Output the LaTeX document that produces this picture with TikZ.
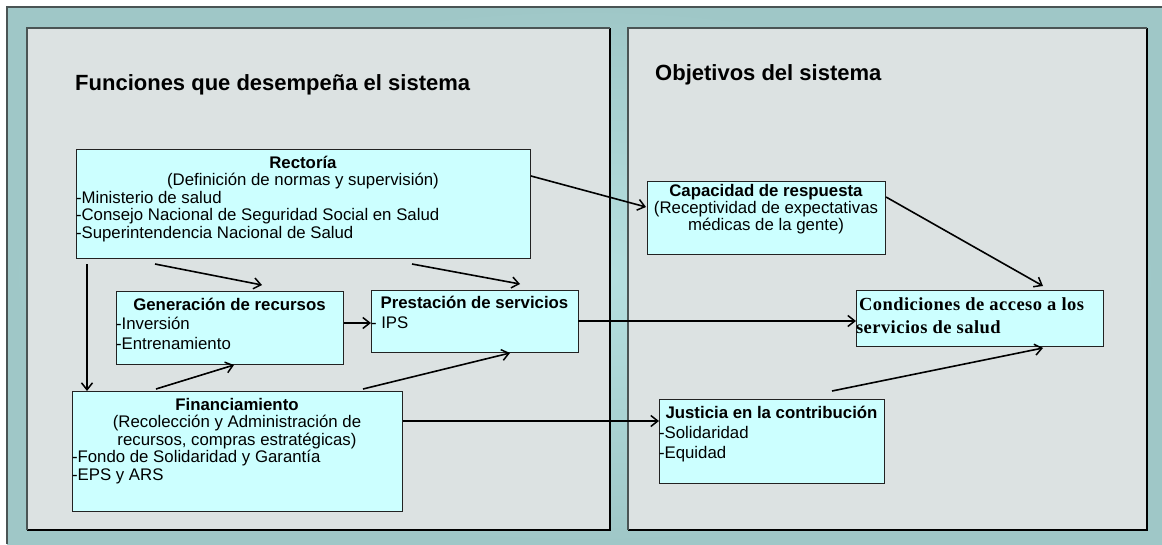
\documentclass[tikz,border=0pt]{standalone}
\usepackage{fontspec}
\setmainfont{Liberation Sans}
\newfontfamily\condfont{Liberation Serif}[LetterSpace=2.5]
\usetikzlibrary{arrows.meta,calc}
\definecolor{teal1}{HTML}{9FC7C7}
\definecolor{teal2}{HTML}{B6E0E0}
\definecolor{panelfill}{HTML}{DCE2E2}
\definecolor{boxfill}{HTML}{CCFFFF}
\definecolor{boxline}{HTML}{222222}
\definecolor{panelline}{HTML}{4A5454}
\newcommand\firstline[1]{\rule{0pt}{#1}}
\newcommand\ctrline[1]{\makebox[\linewidth][c]{#1}}
\begin{document}
\begin{tikzpicture}[x=1pt,y=-1pt,
  box/.style={draw=boxline, line width=0.9pt, fill=boxfill, inner sep=0pt, outer sep=0pt, anchor=north west},
  arr/.style={line width=1.6pt, -{Straight Barb[length=7pt,width=11pt,line width=1.5pt]}},
  paneltitle/.style={anchor=base west, inner sep=0pt, font=\fontsize{22}{26}\selectfont\bfseries}]
\useasboundingbox (0,0) rectangle (1162,544);
\fill[white] (0,0) rectangle (1162,544);
% outer background
\shade[inner color=teal2, outer color=teal1] (7,7) rectangle (1162,544);
\draw[panelline, line width=1.2pt] (7,544) -- (7,7) -- (1162,7);
% panels
\fill[panelfill] (27,28) rectangle (610,530);
\draw[black, line width=1.5pt] (610,28) -- (610,530) -- (27,530);
\draw[panelline, line width=1.2pt] (27,530) -- (27,28) -- (610,28);
\fill[panelfill] (628,28) rectangle (1147,530);
\draw[black, line width=1.5pt] (1147,28) -- (1147,530) -- (628,530);
\draw[panelline, line width=1.2pt] (628,530) -- (628,28) -- (1147,28);
% titles
\node[paneltitle] (t1) at (75,90) {Funciones que desempeña el sistema};
\node[paneltitle] (t2) at (655,80) {Objetivos del sistema};
% boxes
\node[box] (rect) at (76,149) {\parbox[c][109pt][t]{454pt}{\fontsize{16.8}{17.5}\selectfont
\firstline{19pt}\ctrline{\textbf{Rectoría}}\\
\ctrline{(Definición de normas y supervisión)}\\
-Ministerio de salud\\
-Consejo Nacional de Seguridad Social en Salud\\
-Superintendencia Nacional de Salud}};
\node[box] (cap) at (647,181) {\parbox[c][73pt][t]{238pt}{\fontsize{16.8}{17}\selectfont
\firstline{15pt}\ctrline{\textbf{Capacidad de respuesta}}\\
\ctrline{(Receptividad de expectativas}\\
\ctrline{médicas de la gente)}}};
\node[box] (gen) at (116,291) {\parbox[c][73pt][t]{227pt}{\fontsize{16.8}{19.5}\selectfont
\firstline{19pt}\ctrline{\textbf{Generación de recursos}}\\
-Inversión\\
-Entrenamiento}};
\node[box] (pres) at (371,290) {\parbox[c][62pt][t]{207pt}{\fontsize{16.8}{20}\selectfont
\firstline{18pt}\ctrline{\textbf{Prestación de servicios}}\\
- IPS}};
\node[box] (cond) at (856,290) {\parbox[c][56pt][t]{247pt}{\condfont\bfseries\fontsize{18.5}{23}\selectfont
\firstline{20pt}\,Condiciones de acceso a los\\
\,servicios de salud}};
\node[box] (fin) at (72,391) {\parbox[c][120pt][t]{330pt}{\fontsize{16.8}{17.5}\selectfont
\firstline{19pt}\ctrline{\textbf{Financiamiento}}\\
\ctrline{(Recolección y Administración de}\\
\ctrline{recursos, compras estratégicas)}\\
-Fondo de Solidaridad y Garantía\\
-EPS y ARS}};
\node[box] (jus) at (659,399) {\parbox[c][84pt][t]{225pt}{\fontsize{16.8}{20}\selectfont
\firstline{19pt}\ctrline{\textbf{Justicia en la contribución}}\\
-Solidaridad\\
-Equidad}};
% connector end points
\coordinate (finout) at ($(fin.north east)+(1,30)$);
\coordinate (genout) at ($(gen.north east)+(1,32)$);
% connectors
\draw[arr] ($(rect.north east)+(1,27)$) -- ($(cap.north west)+(-1,26)$);
\draw[arr] ($(cap.north east)+(1,16)$) -- ($(cond.north west)+(187,-4)$);
\draw[arr] (pres.east) -- (pres.east -| cond.west);
\draw[arr] ($(jus.north west)+(173,-8)$) -- ($(cond.south west)+(187,2)$);
\draw[arr] (finout) -- (finout -| jus.west);
\draw[arr] ($(rect.south west)+(11,6)$) -- ($(fin.north west)+(15,0)$);
\draw[arr] ($(rect.south west)+(79,6)$) -- ($(gen.north west)+(146,-6)$);
\draw[arr] ($(rect.south west)+(336,6)$) -- ($(pres.north west)+(149,-6)$);
\draw[arr] (genout) -- (genout -| pres.west);
\draw[arr] ($(fin.north west)+(84,-2)$) -- ($(gen.south west)+(118,1)$);
\draw[arr] ($(fin.north west)+(291,-2)$) -- ($(pres.south west)+(139,1)$);
\end{tikzpicture}
\end{document}
